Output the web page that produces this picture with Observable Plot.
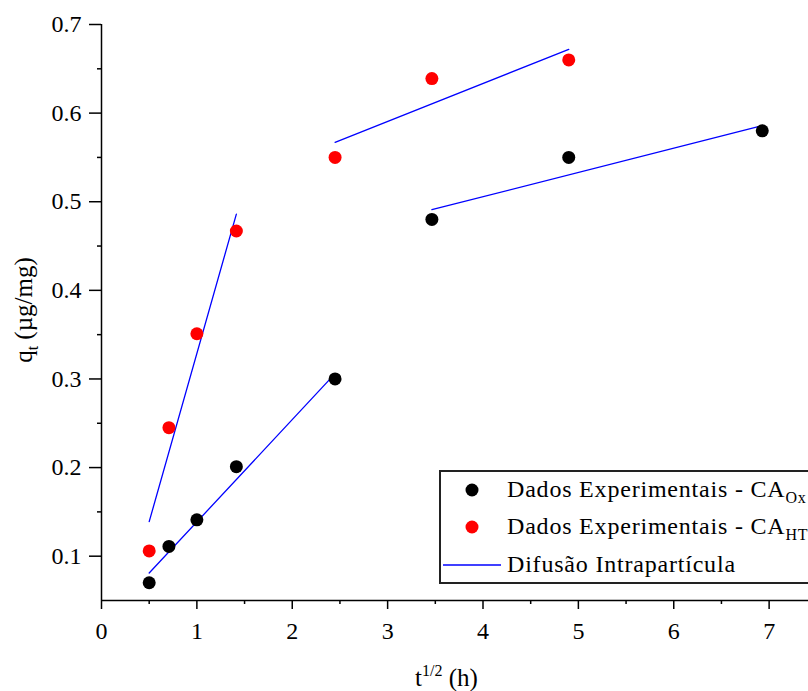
<!DOCTYPE html>
<html><head><meta charset="utf-8">
<script src="https://cdn.jsdelivr.net/npm/d3@7"></script>
<script src="https://cdn.jsdelivr.net/npm/@observablehq/plot@0.6"></script>
<style>
html,body{margin:0;padding:0;background:#fff;overflow:hidden}
#wrap{width:808px;height:691px;overflow:hidden;position:relative;background:#fff}
#wrap svg{max-width:none !important;display:block}
</style></head><body><div id="wrap"></div>
<script>
// t^(1/2) values (h^(1/2))
const tSqrtOx = [0.5, 0.707, 1, 1.414, 2.449, 3.464, 4.899, 6.928];
const qOx     = [0.070, 0.111, 0.141, 0.201, 0.300, 0.480, 0.550, 0.580];
const tSqrtHT = [0.5, 0.707, 1, 1.414, 2.449, 3.464, 4.899];
const qHT     = [0.106, 0.245, 0.351, 0.467, 0.550, 0.639, 0.660];
// intraparticle diffusion fit segments (endpoints)
const fitSegment = ["HT-1", "HT-1", "Ox-1", "Ox-1", "HT-2", "HT-2", "Ox-2", "Ox-2"];
const fitX       = [0.5, 1.414, 0.5, 2.449, 2.449, 4.899, 3.464, 6.928];
const fitY       = [0.139, 0.486, 0.081, 0.306, 0.567, 0.672, 0.491, 0.586];
// ticks
const xMajor = [0, 1, 2, 3, 4, 5, 6, 7];
const xMinor = [0.5, 1.5, 2.5, 3.5, 4.5, 5.5, 6.5, 7.5];
const yMajor = [0.1, 0.2, 0.3, 0.4, 0.5, 0.6, 0.7];
const yMinor = [0.15, 0.25, 0.35, 0.45, 0.55, 0.65];
const legendLabels = ["Dados Experimentais - CA", "Dados Experimentais - CA", "Difusão Intrapartícula"];
const legendSubs = ["Ox", "HT", ""];

const ox = tSqrtOx.map((x, i) => ({x, q: qOx[i]}));
const ht = tSqrtHT.map((x, i) => ({x, q: qHT[i]}));
const fit = fitX.map((x, i) => ({x, q: fitY[i], s: fitSegment[i]}));

const FONT = "'Liberation Serif', 'Times New Roman', serif";
const W = 864, H = 691;

const chart = Plot.plot({
  width: W, height: H,
  marginLeft: 101, marginRight: 0, marginTop: 24, marginBottom: 91,
  style: {fontFamily: FONT, fontSize: "23px", color: "#000", background: "#fff", overflow: "visible", maxWidth: "none"},
  x: {domain: [0, 8], label: null},
  y: {domain: [0.05, 0.7], label: null},
  marks: [
    Plot.axisX(xMajor, {tickSize: 9, tickPadding: 12, fontSize: 24, strokeWidth: 1.5, tickFormat: d => String(d), label: null}),
    Plot.axisX(xMinor, {tickSize: 4, strokeWidth: 1.5, tickFormat: () => "", label: null}),
    Plot.axisY(yMajor, {tickSize: 12, tickPadding: 8, fontSize: 24, strokeWidth: 1.5, tickFormat: d => d.toFixed(1), label: null}),
    Plot.axisY(yMinor, {tickSize: 4, strokeWidth: 1.5, tickFormat: () => "", label: null}),
    Plot.ruleX([0], {stroke: "#000", strokeWidth: 1.5}),
    Plot.ruleY([0.05], {stroke: "#000", strokeWidth: 1.5}),
    Plot.line(fit, {x: "x", y: "q", z: "s", stroke: "#0000ff", strokeWidth: 1.3}),
    Plot.dot(ox, {x: "x", y: "q", r: 6.5, fill: "#000", stroke: "none"}),
    Plot.dot(ht, {x: "x", y: "q", r: 6.5, fill: "#ff0000", stroke: "none"})
  ]
});
chart.style.maxWidth = "none";
chart.style.width = W + "px";
chart.style.height = H + "px";
document.getElementById("wrap").appendChild(chart);

const svg = d3.select(chart);
// x axis title
const xt = svg.append("text").attr("x", 415).attr("y", 686).attr("text-anchor", "start")
  .attr("font-family", FONT).attr("font-size", 25).attr("fill", "#000");
xt.append("tspan").text("t");
xt.append("tspan").attr("font-size", 16).attr("dy", -10).text("1/2");
xt.append("tspan").attr("dy", 10).text(" (h)");

// y axis title
const yt = svg.append("text").attr("transform", "translate(32,310) rotate(-90)")
  .attr("text-anchor", "middle").attr("font-family", FONT).attr("font-size", 25).attr("fill", "#000");
yt.append("tspan").text("q");
yt.append("tspan").attr("font-size", 16).attr("dy", 6).text("t");
yt.append("tspan").attr("dy", -6).text(" (µg/mg)");

// legend
const lg = svg.append("g");
lg.append("rect").attr("x", 440).attr("y", 471).attr("width", 420).attr("height", 112)
  .attr("fill", "#fff").attr("stroke", "#222").attr("stroke-width", 2);
lg.append("circle").attr("cx", 472).attr("cy", 490).attr("r", 6.5).attr("fill", "#000");
lg.append("circle").attr("cx", 472).attr("cy", 527).attr("r", 6.5).attr("fill", "#ff0000");
lg.append("line").attr("x1", 443).attr("x2", 501).attr("y1", 565).attr("y2", 565)
  .attr("stroke", "#0000ff").attr("stroke-width", 1.3);
const baselines = [497, 534, 572];
legendLabels.forEach((t, i) => {
  const tx = lg.append("text").attr("x", 507).attr("y", baselines[i]).attr("text-anchor", "start")
    .attr("font-family", FONT).attr("font-size", 24).attr("letter-spacing", "0.8px").attr("fill", "#000");
  tx.append("tspan").text(t);
  if (legendSubs[i]) tx.append("tspan").attr("font-size", 16).attr("dy", 6).text(legendSubs[i]);
});
</script>
</body></html>
